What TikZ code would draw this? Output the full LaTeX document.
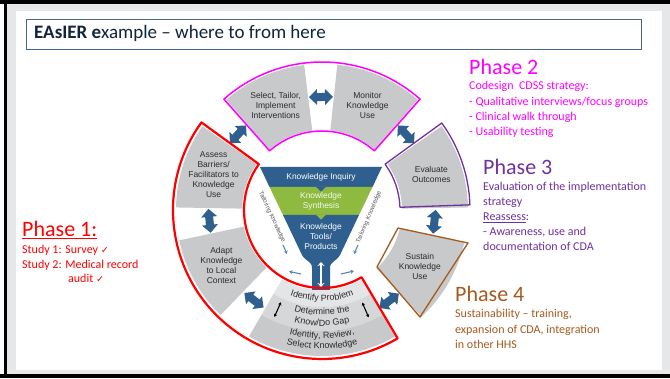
\documentclass[tikz,border=0pt]{standalone}
\usepackage{fontspec}
\setmainfont{Carlito}
\newfontfamily\arialf{Liberation Sans}
\newfontfamily\djv{DejaVu Sans}
\usetikzlibrary{decorations.text,arrows.meta}
\definecolor{framegray}{HTML}{E6E7E9}
\definecolor{titleblue}{HTML}{46668A}
\definecolor{titletext}{HTML}{10243E}
\definecolor{boxgray}{HTML}{C8C9CB}
\definecolor{band1}{HTML}{E4E5E6}
\definecolor{band2}{HTML}{D6D7D8}
\definecolor{band3}{HTML}{C8C9CB}
\definecolor{boxtext}{HTML}{2B2B2B}
\definecolor{kblue}{HTML}{2E5F8E}
\definecolor{kgreen}{HTML}{8DBA3F}
\definecolor{lightarrow}{HTML}{5B84B1}
\definecolor{pone}{HTML}{FF0000}
\definecolor{ptwo}{HTML}{FF00FF}
\definecolor{pthree}{HTML}{7030A0}
\definecolor{pfour}{HTML}{A65A1E}
\definecolor{tailor}{HTML}{555555}
\newcommand\sectorfill[5]{\fill[#5] (#1:#3) -- (#1:#4) arc[start angle=#1, end angle=#2, radius=#4] -- (#2:#3) arc[start angle=#2, end angle=#1, radius=#3] -- cycle;}
\newcommand\gaparrow[1]{\begin{scope}[shift={(#1:113)}, rotate=#1+90]
 \fill[kblue] (-12,0) -- (-4,8) -- (-4,4) -- (4,4) -- (4,8) -- (12,0) -- (4,-8) -- (4,-4) -- (-4,-4) -- (-4,-8) -- cycle;
\end{scope}}
\newcommand\bottomfont{\arialf\fontsize{9}{10}\selectfont\color{boxtext}}
\newcommand\checkmk{{\djv\fontsize{9.5}{10}\selectfont ✓}}
\begin{document}
\begin{tikzpicture}[x=1pt,y=1pt,
  boxtxt/.style={font=\arialf\fontsize{8.5}{10}\selectfont, text=boxtext, align=center, inner sep=0pt},
  funtxt/.style={font=\arialf\fontsize{8.4}{10}\selectfont, text=white, align=center, inner sep=0pt},
  tailtxt/.style={font=\arialf\fontsize{6.2}{7}\selectfont, text=tailor, inner sep=0pt},
  phhead/.style={font=\fontsize{22}{26}\selectfont, anchor=base west, inner sep=0pt},
  phbody/.style={font=\fontsize{12}{15}\selectfont, anchor=base west, inner sep=0pt},
  smallarr/.style={draw=lightarrow, line width=1.1pt, -{Stealth[length=3.5pt,width=4pt]}},
  blackarr/.style={draw=black, line width=1.1pt, {Stealth[length=3pt,width=3.5pt]}-{Stealth[length=3pt,width=3.5pt]}},
  whitearr/.style={draw=white, line width=2.4pt, {Stealth[length=4pt,width=7pt]}-{Stealth[length=4pt,width=7pt]}}
  ]
\useasboundingbox (0,0) rectangle (670,378);
% frame
\fill[framegray] (0,0) rectangle (670,378);
\fill[white] (0,0) rectangle (4,378);
\fill[black] (4,0) rectangle (6.5,378);
\fill[black] (0,374) rectangle (670,378);
\fill[black] (0,0) rectangle (670,4);
\fill[white] (16,8) rectangle (662,367);
% title
\draw[titleblue, line width=1pt] (26,328) rectangle (641,358);
\node[anchor=base west, inner sep=0pt, font=\fontsize{19}{22}\selectfont, text=titletext] (title) at (34,339) {\textbf{EAsIER e}xample – where to from here};

% ring
\begin{scope}[shift={(322,168)}]
\gaparrow{90.5}
\gaparrow{42}
\gaparrow{-6}
\gaparrow{-53.5}
\gaparrow{233}
\gaparrow{185.5}
\gaparrow{138}
\sectorfill{97}{131}{80}{146}{boxgray}
\sectorfill{49}{84}{80}{146}{boxgray}
\sectorfill{1}{35}{80}{146}{boxgray}
\sectorfill{-47}{-13}{80}{146}{boxgray}
\sectorfill{192}{226}{80}{146}{boxgray}
\sectorfill{145}{179}{80}{146}{boxgray}
\sectorfill{-120}{-60}{80}{97}{band1}
\sectorfill{-120}{-60}{97}{121}{band2}
\sectorfill{-120}{-60}{121}{146}{band3}
\node[boxtxt] (select) at (114:114) {Select, Tailor,\\Implement\\Interventions};
\node[boxtxt] (monitor) at (66.5:114) {Monitor\\Knowledge\\Use};
\node[boxtxt] (evaluate) at (18:115) {Evaluate\\Outcomes};
\node[boxtxt] (sustain) at (-30:113) {Sustain\\Knowledge\\Use};
\node[boxtxt] (adapt) at (209:115) {Adapt\\Knowledge\\to Local\\Context};
\node[boxtxt] (assess) at (162:114) {Assess\\Barriers/\\Facilitators to\\Knowledge\\Use};
\path[decorate, decoration={text along path, text align=center, text={|\bottomfont|Identify Problem}}] (-120:91) arc[start angle=-120, end angle=-60, radius=91];
\path[decorate, decoration={text along path, text align=center, text={|\bottomfont|Determine the}}] (-120:105) arc[start angle=-120, end angle=-60, radius=105];
\path[decorate, decoration={text along path, text align=center, text={|\bottomfont|Know/Do Gap}}] (-120:116) arc[start angle=-120, end angle=-60, radius=116];
\path[decorate, decoration={text along path, text align=center, text={|\bottomfont|Identify, Review,}}] (-120:128.5) arc[start angle=-120, end angle=-60, radius=128.5];
\path[decorate, decoration={text along path, text align=center, text={|\bottomfont|Select Knowledge}}] (-120:139) arc[start angle=-120, end angle=-60, radius=139];
\coordinate (bl1) at (-114:101);
\coordinate (bl2) at (-114:117);
\coordinate (br1) at (-66.5:101);
\coordinate (br2) at (-66.5:117);
\draw[blackarr] (bl1) -- (bl2);
\draw[blackarr] (br1) -- (br2);
\end{scope}

% funnel
\fill[kblue] (260,211) -- (382,211) -- (372.5,191) -- (269.5,191) -- cycle;
\fill[kgreen] (269.5,191) -- (372.5,191) -- (359,163) -- (283,163) -- cycle;
\fill[kblue] (316,191.2) -- (326,191.2) -- (321,186.5) -- cycle;
\fill[kblue] (283,163) -- (302,123) .. controls (306,116) and (312,117) .. (312,110) -- (312,88) -- (330,88) -- (330,110) .. controls (330,117) and (336,116) .. (340,123) -- (359,163) -- cycle;
\fill[kgreen] (316,163.2) -- (326,163.2) -- (321,158.5) -- cycle;
\node[funtxt] (inquiry) at (321,201) {Knowledge Inquiry};
\node[funtxt, text=white!92!kgreen] (synthesis) at (321,177) {Knowledge\\Synthesis};
\node[funtxt] (tools) at (321,142) {Knowledge\\Tools/\\Products};
\coordinate (st1) at (321,91);
\coordinate (st2) at (321,116);
\draw[whitearr] (st1) -- (st2);
\node[tailtxt, rotate=-65] (tailL) at (272,161) {Tailoring Knowledge};
\node[tailtxt, rotate=67] (tailR) at (369,161) {Tailoring Knowledge};
\coordinate (la1) at (283,133);
\coordinate (la2) at (287,124);
\coordinate (ra1) at (358,133);
\coordinate (ra2) at (354,124);
\coordinate (lb1) at (301,104);
\coordinate (lb2) at (289,106.5);
\coordinate (rb1) at (341,104);
\coordinate (rb2) at (354,107);
\draw[smallarr] (la1) -- (la2);
\draw[smallarr] (ra1) -- (ra2);
\draw[smallarr] (lb1) -- (lb2);
\draw[smallarr] (rb1) -- (rb2);

% outlines
\begin{scope}[shift={(322,168)}]
\draw[pone, line width=2.2pt, line join=round] (144:78) -- (144:149) arc[start angle=144, end angle=300.5, radius=149] -- (300.5:78) arc[start angle=300.5, end angle=144, radius=78] -- cycle;
\draw[ptwo, line width=1.5pt, line join=round] (131.5:79) -- (131.5:148) arc[start angle=131.5, end angle=48.5, radius=148] -- (48.5:79) arc[start angle=48.5, end angle=131.5, radius=79] -- cycle;
\draw[pthree, line width=1.3pt, line join=round] (2:78) -- (2:148) arc[start angle=2, end angle=36, radius=148] -- (36:78) arc[start angle=36, end angle=2, radius=78] -- cycle;
\draw[pfour, line width=1.3pt, line join=round] (55,-57) -- (76,-18) -- (146,-33) -- (98,-107) -- cycle;
\end{scope}

% phase texts
\node[phhead, text=pone] (p1h) at (22,141) {\underline{Phase 1:}};
\node[phbody, text=pone] (p1a) at (22,124) {Study 1: Survey \checkmk};
\node[phbody, text=pone] (p1b) at (22,110) {Study 2: Medical record};
\node[phbody, text=pone] (p1c) at (68,95) {audit \checkmk};

\node[phhead, text=ptwo] (p2h) at (469,303) {Phase 2};
\node[phbody, text=ptwo] (p2a) at (469,288) {Codesign\ \ CDSS strategy:};
\node[phbody, text=ptwo] (p2b) at (469,272) {- Qualitative interviews/focus groups};
\node[phbody, text=ptwo] (p2c) at (469,257) {- Clinical walk through};
\node[phbody, text=ptwo] (p2d) at (469,242) {- Usability testing};

\node[phhead, text=pthree] (p3h) at (483,203) {Phase 3};
\node[phbody, text=pthree] (p3a) at (483,187.5) {Evaluation of the implementation};
\node[phbody, text=pthree] (p3b) at (483,172.5) {strategy};
\node[phbody, text=pthree] (p3c) at (483,157.5) {\underline{Reassess}:};
\node[phbody, text=pthree] (p3d) at (483,142.5) {- Awareness, use and};
\node[phbody, text=pthree] (p3e) at (483,127.5) {documentation of CDA};

\node[phhead, text=pfour] (p4h) at (455,76) {Phase 4};
\node[phbody, text=pfour] (p4a) at (455,60) {Sustainability – training,};
\node[phbody, text=pfour] (p4b) at (455,45) {expansion of CDA, integration};
\node[phbody, text=pfour] (p4c) at (455,30) {in other HHS};
\end{tikzpicture}
\end{document}
